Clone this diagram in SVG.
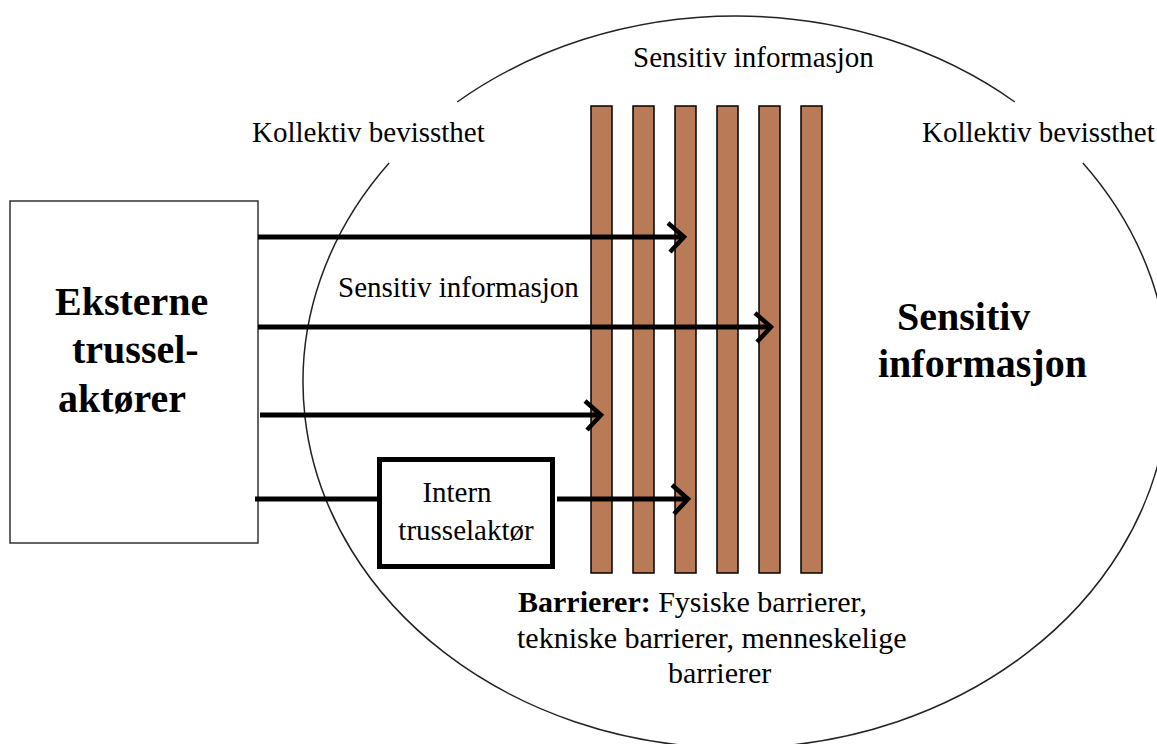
<svg xmlns="http://www.w3.org/2000/svg" width="1157" height="744" viewBox="0 0 1157 744">
<style>
.t{font-family:"Liberation Serif","Times New Roman",serif;fill:#000}
.r{font-size:29px}
.b{font-size:40px;font-weight:bold}
.bar{fill:#b97a57;stroke:#000;stroke-width:1.5}
.arc{fill:none;stroke:#222;stroke-width:1.5}
.ln{stroke:#000;stroke-width:5;fill:none}
</style>
<defs>
<marker id="ah" markerUnits="userSpaceOnUse" viewBox="-20 -20 40 40" markerWidth="40" markerHeight="40" refX="0" refY="0" orient="auto">
<path d="M-16,-14 L0,0 L-14,15" fill="none" stroke="#000" stroke-width="4.5" stroke-linejoin="miter"/>
</marker>
</defs>
<rect width="1157" height="744" fill="#fff"/>
<g id="ellipse">
<path class="arc" d="M457.15,102 A433,366 0 0 1 1014.85,102"/>
<path class="arc" d="M1082.9,163 A433,366 0 1 1 389.1,163"/>
</g>
<g id="barriers">
<rect class="bar" x="591" y="106" width="21" height="467"/>
<rect class="bar" x="633" y="106" width="21" height="467"/>
<rect class="bar" x="675" y="106" width="21" height="467"/>
<rect class="bar" x="717" y="106" width="21" height="467"/>
<rect class="bar" x="759" y="106" width="21" height="467"/>
<rect class="bar" x="801" y="106" width="21" height="467"/>
</g>
<g id="eksterne">
<rect x="10" y="201" width="248" height="342" fill="#fff" stroke="#333" stroke-width="1.5"/>
<text class="t b" x="55" y="315">Eksterne</text>
<text class="t b" x="72" y="363">trussel-</text>
<text class="t b" x="58" y="412">aktører</text>
</g>
<g id="intern">
<rect x="379.5" y="459.5" width="173" height="107" fill="#fff" stroke="#000" stroke-width="5"/>
<text class="t r" x="457" y="502" text-anchor="middle">Intern</text>
<text class="t r" x="466" y="540" text-anchor="middle">trusselaktør</text>
</g>
<g id="connectors">
<line class="ln" x1="258" y1="237" x2="684" y2="237" marker-end="url(#ah)"/>
<line class="ln" x1="258" y1="327" x2="771" y2="327" marker-end="url(#ah)"/>
<line class="ln" x1="260" y1="415" x2="601" y2="415" marker-end="url(#ah)"/>
<line class="ln" x1="255" y1="499" x2="377" y2="499"/>
<line class="ln" x1="557" y1="499" x2="688" y2="499" marker-end="url(#ah)"/>
</g>
<g id="labels">
<text class="t r" x="633" y="67">Sensitiv informasjon</text>
<text class="t r" x="252" y="142">Kollektiv bevissthet</text>
<text class="t r" x="922" y="142">Kollektiv bevissthet</text>
<text class="t r" x="338" y="297">Sensitiv informasjon</text>
<text class="t b" x="897" y="330">Sensitiv</text>
<text class="t b" x="878" y="377">informasjon</text>
<text class="t" style="font-size:30px" x="518" y="612"><tspan font-weight="bold">Barrierer:</tspan> Fysiske barrierer,</text>
<text class="t" style="font-size:30px" x="517" y="648">tekniske barrierer, menneskelige</text>
<text class="t" style="font-size:30px" x="668" y="683">barrierer</text>
</g>
</svg>
